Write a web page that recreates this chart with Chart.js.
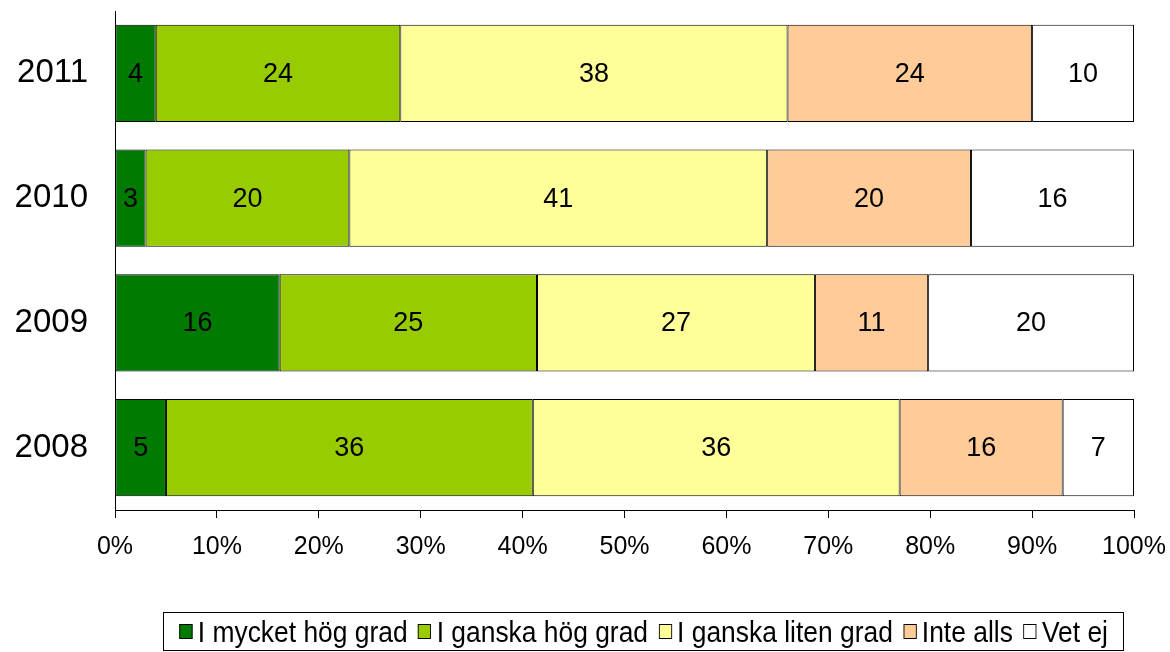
<!DOCTYPE html>
<html>
<head>
<meta charset="utf-8">
<script src="https://cdn.jsdelivr.net/npm/chart.js@4"></script>
<style>
  html, body { margin: 0; padding: 0; background: #fff; }
  #wrap { position: relative; width: 1170px; height: 652px; }
  #legend {
    position: absolute; left: 163px; top: 612px; width: 961px; height: 39px;
    border: 1px solid #000; box-sizing: border-box;
    display: flex; align-items: center; justify-content: center; overflow: hidden;
  }
  #legend .inner {
    display: flex; align-items: center; white-space: nowrap;
    font-family: "Liberation Sans", Arial, sans-serif;
    font-size: 30px; color: #000; transform: scaleX(0.88);
  }
  #legend span.item { display: inline-flex; align-items: center; margin: 0 6px; }
  #legend span.box { display: inline-block; width: 15px; height: 15px; border: 1px solid #000; margin-right: 6px; box-sizing: border-box; }
</style>
</head>
<body>
<div id="wrap">
  <canvas id="chart" width="1170" height="652"></canvas>
  <div id="legend"><div class="inner"></div></div>
</div>
<script>
// kategorier och serier (procent per år)
const years = ['2011', '2010', '2009', '2008'];
const seriesNames = ['I mycket hög grad', 'I ganska hög grad', 'I ganska liten grad', 'Inte alls', 'Vet ej'];
const seriesColors = ['#007A00', '#99CC00', '#FFFF99', '#FFCC99', '#FFFFFF'];

const myckethog = [4, 3, 16, 5];
const ganskahog = [24, 20, 25, 36];
const ganskaliten = [38, 41, 27, 36];
const inteAlls = [24, 20, 11, 16];
const vetEj = [10, 16, 20, 7];

const xTicks = ['0%', '10%', '20%', '30%', '40%', '50%', '60%', '70%', '80%', '90%', '100%'];

const raw = [myckethog, ganskahog, ganskaliten, inteAlls, vetEj];
// 100% staplad: normalisera varje år
const totals = years.map((y, i) => raw.reduce((s, arr) => s + arr[i], 0));

const datasets = raw.map((arr, k) => ({
  label: seriesNames[k],
  data: arr.map((v, i) => v / totals[i] * 100),
  rawValues: arr,
  backgroundColor: seriesColors[k],
  borderColor: '#000',
  borderWidth: 1,
  borderSkipped: false,
  barPercentage: 0.78,
  categoryPercentage: 1.0
}));

// etiketter i staplarna
const barLabels = {
  id: 'barLabels',
  afterDatasetsDraw(chart) {
    const ctx = chart.ctx;
    ctx.save();
    ctx.font = '27px "Liberation Sans", Arial, sans-serif';
    ctx.fillStyle = '#000';
    ctx.textAlign = 'center';
    ctx.textBaseline = 'middle';
    chart.data.datasets.forEach((ds, di) => {
      chart.getDatasetMeta(di).data.forEach((bar, i) => {
        const p = bar.getProps(['x', 'y', 'base'], true);
        ctx.fillText(String(ds.rawValues[i]), (p.x + p.base) / 2, p.y + 1);
      });
    });
    ctx.restore();
  }
};

new Chart(document.getElementById('chart'), {
  type: 'bar',
  data: { labels: years, datasets: datasets },
  options: {
    indexAxis: 'y',
    responsive: false,
    animation: false,
    layout: { padding: { top: 11, right: 36, left: 0, bottom: 62 } },
    plugins: { legend: { display: false }, tooltip: { enabled: false } },
    scales: {
      x: {
        stacked: true,
        min: 0, max: 100,
        afterFit: s => { s.height = 80; s.paddingLeft = 0; s.paddingRight = 0; },
        afterBuildTicks: s => { s.ticks = xTicks.map((t, i) => ({ value: i * 10 })); },
        grid: { drawOnChartArea: false, drawTicks: true, tickLength: 8, color: '#000' },
        border: { display: true, color: '#000', width: 1 },
        ticks: {
          padding: 14,
          color: '#000',
          font: { family: '"Liberation Sans", Arial, sans-serif', size: 25 },
          maxRotation: 0,
          autoSkip: false,
          callback: (v, i) => xTicks[i]
        }
      },
      y: {
        stacked: true,
        afterFit: s => { s.width = 115; s.paddingTop = 0; s.paddingBottom = 0; },
        grid: { display: false, drawTicks: false },
        border: { display: true, color: '#000', width: 1 },
        ticks: {
          padding: 27,
          color: '#000',
          font: { family: '"Liberation Sans", Arial, sans-serif', size: 33 }
        }
      }
    }
  },
  plugins: [barLabels]
});

// legend som HTML
const leg = document.querySelector('#legend .inner');
seriesNames.forEach((n, k) => {
  const it = document.createElement('span');
  it.className = 'item';
  it.innerHTML = `<span class="box" style="background:${seriesColors[k]}"></span>${n}`;
  leg.appendChild(it);
});
</script>
</body>
</html>
